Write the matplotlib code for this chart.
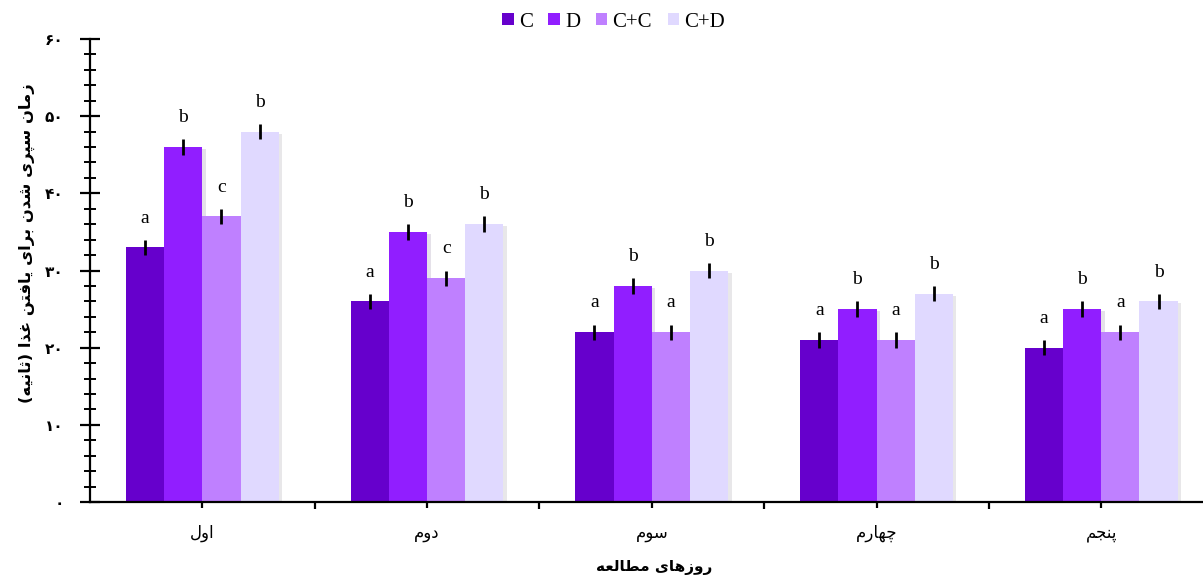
import numpy as np
import matplotlib
matplotlib.use("Agg")
import matplotlib.pyplot as plt
import matplotlib.patheffects as pe
from matplotlib.ticker import MultipleLocator, FixedLocator

# --- data ---
days = ["اول", "دوم", "سوم", "چهارم", "پنجم"]
series = ["C", "D", "C+C", "C+D"]
val_c = [33, 26, 22, 21, 20]
val_d = [46, 35, 28, 25, 25]
val_cc = [37, 29, 22, 21, 22]
val_cd = [48, 36, 30, 27, 26]
err = [1, 1, 1, 1, 1]
let_c = ["a", "a", "a", "a", "a"]
let_d = ["b", "b", "b", "b", "b"]
let_cc = ["c", "c", "a", "a", "a"]
let_cd = ["b", "b", "b", "b", "b"]
ylabel = "زمان سپری شدن برای یافتن غذا (ثانیه)"
xlabel = "روزهای مطالعه"
colors = ["#6600CC", "#911EFF", "#BF80FF", "#E0D9FF"]

# minimal Persian shaping (matplotlib has no complex text layout)
FORMS = {
    "ا": (0xFE8D, 0xFE8E), "آ": (0xFE81, 0xFE82),
    "د": (0xFEA9, 0xFEAA), "ذ": (0xFEAB, 0xFEAC), "ر": (0xFEAD, 0xFEAE),
    "ز": (0xFEAF, 0xFEB0), "ژ": (0xFB8A, 0xFB8B), "و": (0xFEED, 0xFEEE),
    "ب": (0xFE8F, 0xFE90, 0xFE91, 0xFE92), "پ": (0xFB56, 0xFB57, 0xFB58, 0xFB59),
    "ت": (0xFE95, 0xFE96, 0xFE97, 0xFE98), "ث": (0xFE99, 0xFE9A, 0xFE9B, 0xFE9C),
    "ج": (0xFE9D, 0xFE9E, 0xFE9F, 0xFEA0), "چ": (0xFB7A, 0xFB7B, 0xFB7C, 0xFB7D),
    "س": (0xFEB1, 0xFEB2, 0xFEB3, 0xFEB4), "ش": (0xFEB5, 0xFEB6, 0xFEB7, 0xFEB8),
    "ط": (0xFEC1, 0xFEC2, 0xFEC3, 0xFEC4), "ع": (0xFEC9, 0xFECA, 0xFECB, 0xFECC),
    "غ": (0xFECD, 0xFECE, 0xFECF, 0xFED0), "ف": (0xFED1, 0xFED2, 0xFED3, 0xFED4),
    "ل": (0xFEDD, 0xFEDE, 0xFEDF, 0xFEE0), "م": (0xFEE1, 0xFEE2, 0xFEE3, 0xFEE4),
    "ن": (0xFEE5, 0xFEE6, 0xFEE7, 0xFEE8), "ه": (0xFEE9, 0xFEEA, 0xFEEB, 0xFEEC),
    "ی": (0xFBFC, 0xFBFD, 0xFBFE, 0xFBFF),
}


def fa(text):
    out = []
    for i, ch in enumerate(text):
        if ch not in FORMS:
            out.append(ch)
            continue
        f = FORMS[ch]
        prev = text[i - 1] if i > 0 else ""
        nxt = text[i + 1] if i + 1 < len(text) else ""
        jp = prev in FORMS and len(FORMS[prev]) == 4
        jn = len(f) == 4 and nxt in FORMS
        if jp and jn:
            out.append(chr(f[3]))
        elif jp:
            out.append(chr(f[1]))
        elif jn:
            out.append(chr(f[2]))
        else:
            out.append(chr(f[0]))
    s = "".join(out)[::-1]
    return s.translate(str.maketrans("()", ")("))


def fa_num(n):
    return "".join(chr(0x06F0 + int(d)) for d in str(n))


plt.rcParams["font.family"] = ["DejaVu Sans"]

fig = plt.figure(figsize=(12.03, 5.79), dpi=100)
ax = fig.add_axes([0.0748, 0.133, 0.934, 0.7996])

x = np.arange(len(days))
w = 0.17
all_vals = [val_c, val_d, val_cc, val_cd]
all_lets = [let_c, let_d, let_cc, let_cd]
bar_sets = []
for k, (vals, lets) in enumerate(zip(all_vals, all_lets)):
    pos = x + (k - 1.5) * w
    bars = ax.bar(pos, vals, w, color=colors[k], label=series[k], zorder=2)
    bar_sets.append(bars)
    ax.errorbar(pos, vals, yerr=err, fmt="none", ecolor="black",
                elinewidth=2, capsize=0, zorder=3)
    for p, v, l in zip(pos, vals, lets):
        ax.text(p, v + 3.8, l, ha="center", va="center",
                family="Liberation Serif", fontsize=14)

ax.set_xlim(-0.5, 4.5)
ax.set_ylim(0, 60)
for s in ["top", "right"]:
    ax.spines[s].set_visible(False)
ax.spines["left"].set_linewidth(1.6)
ax.spines["bottom"].set_linewidth(1.6)

ax.yaxis.set_minor_locator(MultipleLocator(2))
ax.set_yticks(np.arange(0, 61, 10))
ax.set_yticklabels([fa_num(v) for v in range(0, 61, 10)], fontsize=11,
                   fontweight="bold")
ax.tick_params(axis="y", which="major", direction="inout", length=14,
               width=1.6, pad=12)
ax.tick_params(axis="y", which="minor", direction="inout", length=9, width=1.4)

ax.set_xticks(x)
ax.set_xticklabels([fa(d) for d in days], fontsize=12)
ax.xaxis.set_minor_locator(FixedLocator([0.5, 1.5, 2.5, 3.5]))
ax.tick_params(axis="x", which="major", direction="inout", length=8,
               width=1.6, pad=12)
ax.tick_params(axis="x", which="minor", direction="out", length=5, width=1.6)

ax.set_ylabel(fa(ylabel), fontsize=11.8, fontweight="bold")
ax.yaxis.set_label_coords(-0.049, 0.559)
ax.set_xlabel(fa(xlabel), fontsize=11, fontweight="bold")
ax.xaxis.set_label_coords(0.502, -0.126)

fig.legend(loc="center", bbox_to_anchor=(0.51, 0.962), ncol=4, frameon=False,
           handlelength=0.55, handleheight=0.55, handletextpad=0.25,
           columnspacing=0.75, prop={"family": "Liberation Serif", "size": 15})

# soft shadow on the bars (added after the legend so the keys stay flat)
shadow = [pe.SimplePatchShadow(offset=(2.5, -1.5), alpha=0.12), pe.Normal()]
for bars in bar_sets:
    for b in bars:
        b.set_path_effects(shadow)

fig.savefig("out.png", dpi=100)
